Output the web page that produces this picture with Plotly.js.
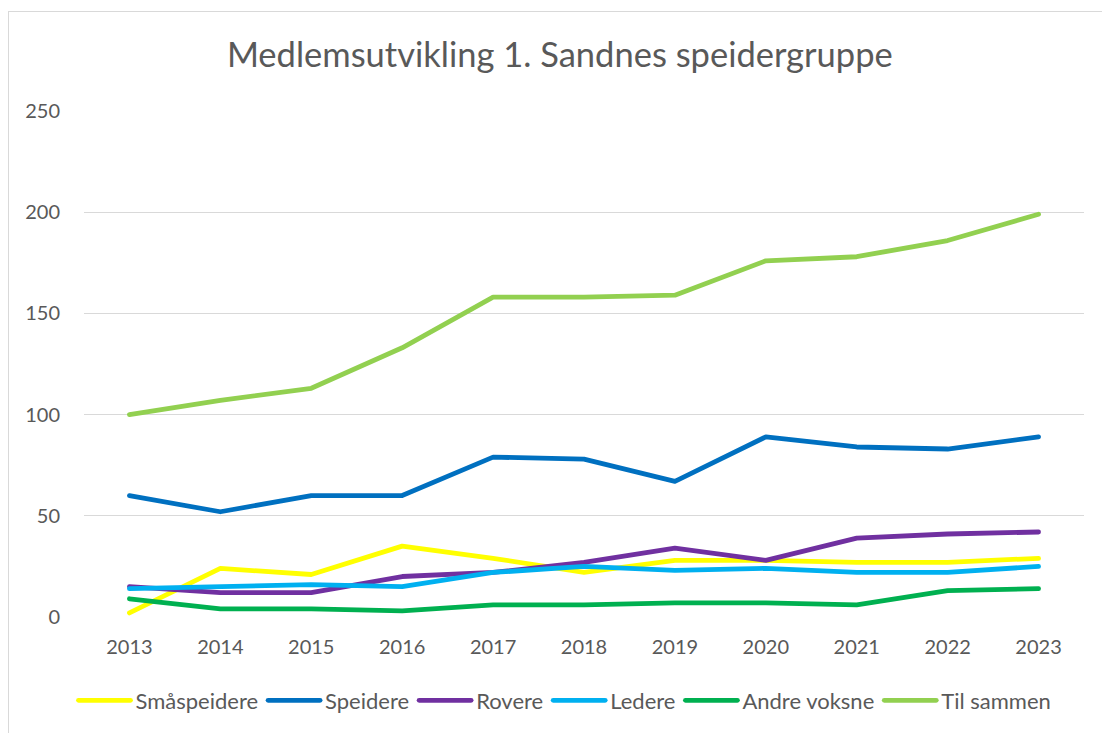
<!DOCTYPE html>
<html>
<head>
<meta charset="utf-8">
<script src="https://cdn.plot.ly/plotly-3.0.1.min.js"></script>
<style>
  html, body { margin: 0; padding: 0; background: #ffffff; }
  #frame { position: absolute; left: 8px; top: 11px; width: 1200px; height: 800px;
           border-left: 1px solid #d9d9d9; border-top: 1px solid #d9d9d9; box-sizing: border-box; }
  #chart { position: absolute; left: 0; top: 0; width: 1102px; height: 733px; }
  #chart .scatterlayer path.js-line, #chart .legend path.js-line { stroke-linecap: round; stroke-linejoin: round; }
</style>
</head>
<body>
<div id="frame"></div>
<div id="chart"></div>
<script>
const years = ["2013","2014","2015","2016","2017","2018","2019","2020","2021","2022","2023"];
const smaspeidere = [2, 24, 21, 35, 29, 22, 28, 28, 27, 27, 29];
const speidere    = [60, 52, 60, 60, 79, 78, 67, 89, 84, 83, 89];
const rovere      = [15, 12, 12, 20, 22, 27, 34, 28, 39, 41, 42];
const ledere      = [14, 15, 16, 15, 22, 25, 23, 24, 22, 22, 25];
const andreVoksne = [9, 4, 4, 3, 6, 6, 7, 7, 6, 13, 14];
const tilSammen   = [100, 107, 113, 133, 158, 158, 159, 176, 178, 186, 199];
const yTicks = [0, 50, 100, 150, 200, 250];

const seriesNames  = ["Småspeidere", "Speidere", "Rovere", "Ledere", "Andre voksne", "Til sammen"];
const seriesValues = [smaspeidere, speidere, rovere, ledere, andreVoksne, tilSammen];
const seriesColors = ["#FFFF00", "#0070C0", "#7030A0", "#00B0F0", "#00B050", "#92D050"];

const FONT = "Lato, 'Open Sans', sans-serif";
const TXT = "#595959";
const SWATCH = 52;

const traces = seriesNames.map((n, i) => ({
  type: "scatter", mode: "lines", name: n,
  x: years, y: seriesValues[i],
  line: { color: seriesColors[i], width: 4.8 },
  hoverinfo: "x+y+name"
}));

const layout = {
  width: 1102, height: 733,
  paper_bgcolor: "rgba(0,0,0,0)", plot_bgcolor: "rgba(0,0,0,0)",
  margin: { l: 84, r: 18, t: 111, b: 114 },
  font: { family: FONT, color: TXT, size: 20 },
  title: { text: "Medlemsutvikling 1. Sandnes speidergruppe",
           font: { family: FONT, size: 34.5, color: TXT },
           xref: "container", yref: "container", x: 0.508, xanchor: "center", y: 0.925, yanchor: "middle" },
  xaxis: { type: "category", range: [-0.5, 10.5], showgrid: false, zeroline: false,
           showline: false, ticks: "", tickfont: { size: 20, color: TXT, family: FONT },
           ticklabelstandoff: 16, fixedrange: true, automargin: false },
  yaxis: { range: [0, 250], tickvals: yTicks, ticktext: yTicks.map(String),
           showgrid: true, gridcolor: "#d9d9d9", gridwidth: 1.3, zeroline: false,
           showline: false, ticks: "", tickfont: { size: 20, color: TXT, family: FONT },
           ticklabelstandoff: 23, fixedrange: true, automargin: false },
  showlegend: true,
  legend: { orientation: "h", x: 0.481, xanchor: "center", y: -0.165, yanchor: "middle",
            font: { size: 22, color: TXT, family: FONT }, itemwidth: SWATCH, tracegroupgap: 0,
            bgcolor: "rgba(0,0,0,0)" }
};

Plotly.newPlot("chart", traces, layout, { displayModeBar: false, staticPlot: true }).then(gd => {
  gd.querySelectorAll(".legend .traces path.js-line").forEach(p => {
    p.setAttribute("d", "M5,0h" + SWATCH);
  });
});
</script>
</body>
</html>
